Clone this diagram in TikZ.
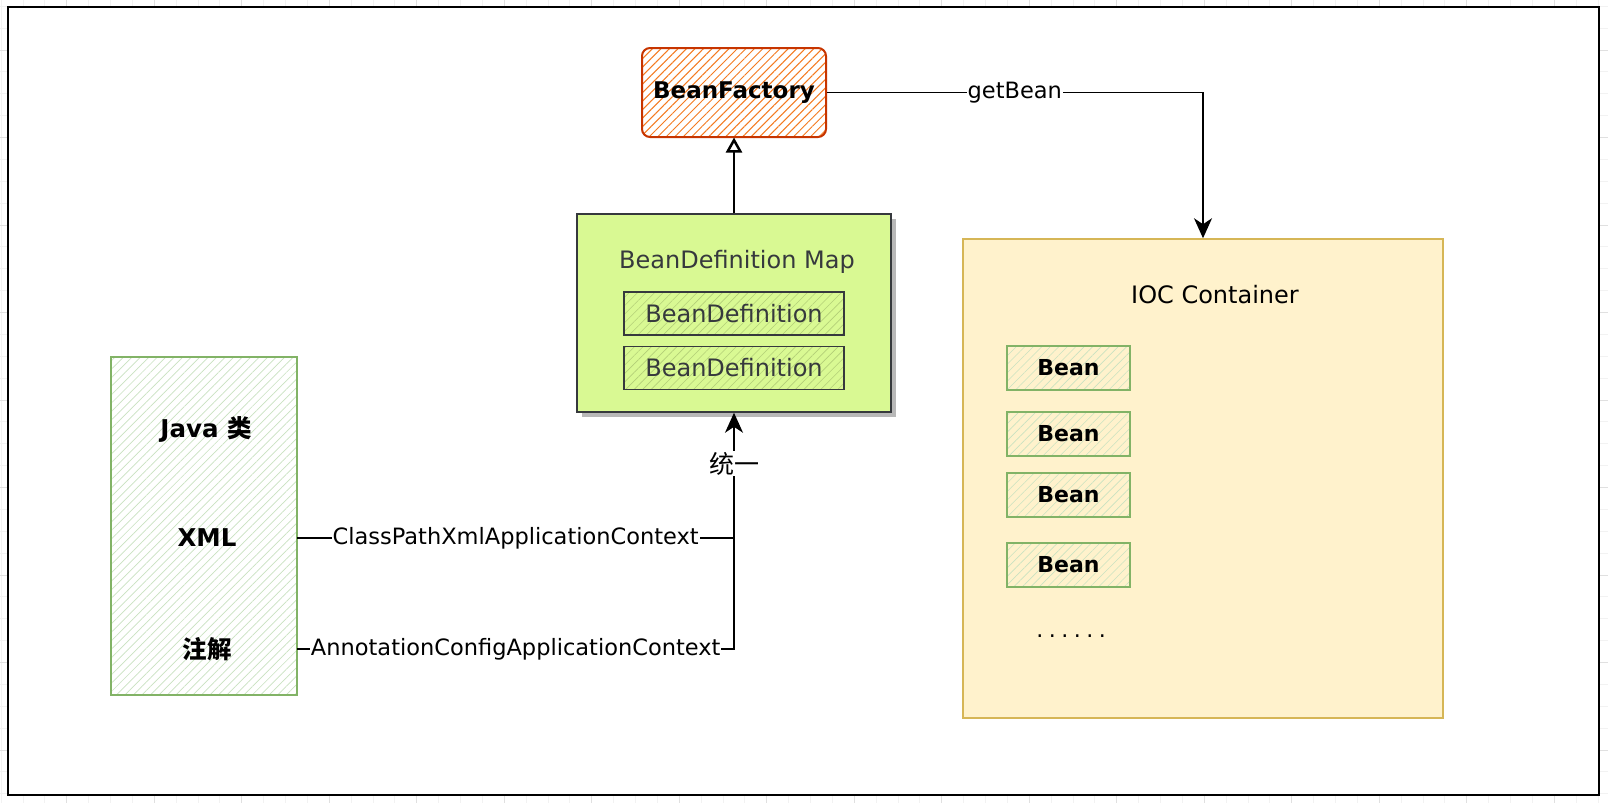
\documentclass[tikz,border=0pt]{standalone}
\usepackage{fontspec}
\setmainfont{DejaVu Sans}
\newfontfamily\cjk{Noto Sans CJK SC}
\usetikzlibrary{arrows.meta,patterns.meta,shadows,positioning}
\definecolor{factoryline}{HTML}{C73500}
\definecolor{factoryhatch}{HTML}{F47A20}
\definecolor{mapfill}{HTML}{D9F993}
\definecolor{mapline}{HTML}{36393D}
\definecolor{maphatch}{HTML}{B3CF78}
\definecolor{greenline}{HTML}{82B366}
\definecolor{greenhatch}{HTML}{C9E2C1}
\definecolor{iocfill}{HTML}{FFF2CC}
\definecolor{iocline}{HTML}{D6B656}

\tikzset{
  gridminor/.style={black!5, line width=0.8pt},
  gridmajor/.style={black!12, line width=0.8pt},
  frame/.style={draw=black, fill=white, line width=2.5pt},
  factorybox/.style={draw=factoryline, line width=2pt, rounded corners=8pt,
    preaction={fill=white}, pattern={Lines[angle=45,distance=6pt,line width=1pt]},
    pattern color=factoryhatch, minimum width=184pt, minimum height=89pt,
    font=\bfseries\fontsize{23}{27}\selectfont},
  mapbox/.style={draw=mapline, fill=mapfill, line width=1.5pt,
    drop shadow={shadow xshift=5pt, shadow yshift=-5pt, fill=black!28, opacity=1}},
  defbox/.style={draw=mapline, line width=1.6pt,
    pattern={Lines[angle=45,distance=6pt,line width=0.6pt]}, pattern color=maphatch,
    minimum width=220pt, minimum height=43pt, text=mapline,
    font=\fontsize{24}{28}\selectfont},
  srcbox/.style={draw=greenline, line width=2pt,
    pattern={Lines[angle=45,distance=6pt,line width=0.7pt]}, pattern color=greenhatch,
    minimum width=186pt, minimum height=338pt},
  srctext/.style={font=\bfseries\fontsize{24.5}{29}\selectfont},
  iocbox/.style={draw=iocline, fill=iocfill, line width=1.5pt,
    minimum width=480pt, minimum height=479pt},
  beanbox/.style={draw=greenline, line width=1.8pt,
    pattern={Lines[angle=45,distance=6pt,line width=0.6pt]}, pattern color=greenhatch,
    minimum width=123pt, minimum height=44pt, font=\bfseries\fontsize{22}{26}\selectfont},
  titletext/.style={font=\fontsize{24}{28}\selectfont},
  link/.style={draw=black, line width=1.5pt},
  lbl/.style={fill=white, inner sep=1pt, font=\fontsize{22.5}{26}\selectfont},
}

\begin{document}
\begin{tikzpicture}[x=1pt,y=-1pt]
\useasboundingbox (0,0) rectangle (1608,803);
% background grid and frame
\foreach \k in {0,...,73} \draw[gridminor] (1.07+21.875*\k,0) -- ++(0,803);
\foreach \k in {0,...,36} \draw[gridminor] (0,6.25+21.875*\k) -- ++(1608,0);
\foreach \k in {0,...,17} \draw[gridmajor] (66.7+87.5*\k,0) -- ++(0,803);
\foreach \k in {0,...,8} \draw[gridmajor] (0,50+87.5*\k) -- ++(1608,0);
\draw[frame] (8,7) rectangle (1599,795);

% factory and definitions
\node[factorybox] (factory) at (734,92.5) {BeanFactory};
\node[mapbox, minimum width=314pt, minimum height=198pt] (map) at (734,313) {};
\node[titletext, text=mapline] (maptitle) at (737,262) {BeanDefinition Map};
\node[defbox] (def1) at (734,313.5) {BeanDefinition};
\node[defbox] (def2) at (734,368) {BeanDefinition};

% sources
\node[srcbox] (src) at (204,526) {};
\node[srctext] (java) at (206,429) {Java {\cjk 类}};
\node[srctext] (xml) at (207,538) {XML};
\node[srctext] (anno) at (207,649) {\cjk 注解};

% container
\node[iocbox] (ioc) at (1203,478.5) {};
\node[titletext] (ioctitle) at (1215,295) {IOC Container};
\foreach \y [count=\i] in {368,434,495,565}
  \node[beanbox] (bean\i) at (1068.5,\y) {Bean};
\node[font=\fontsize{22}{26}\selectfont] (more) at (1071,636)
  {.\hspace{5.5pt}.\hspace{5.5pt}.\hspace{5.5pt}.\hspace{5.5pt}.\hspace{5.5pt}.};

% connectors
\draw[link, line width=2.5pt, -{Triangle[open,length=15pt,width=16pt]}] (map.north) -- (factory.south);
\draw[link, -{Stealth[length=20pt,width=18pt,inset=6pt]}] (factory) -| node[lbl,pos=0.25]{getBean} (ioc);
\draw[link] (xml -| src.east) -- node[lbl]{ClassPathXmlApplicationContext} (xml -| map);
\draw[link, -{Stealth[length=20pt,width=18pt,inset=6pt]}] (anno -| src.east)
  -- node[lbl]{AnnotationConfigApplicationContext} (anno -| map)
  -- node[lbl, pos=0.785, font=\cjk\fontsize{25}{28}\selectfont]{统一} (map.south);
\end{tikzpicture}
\end{document}
